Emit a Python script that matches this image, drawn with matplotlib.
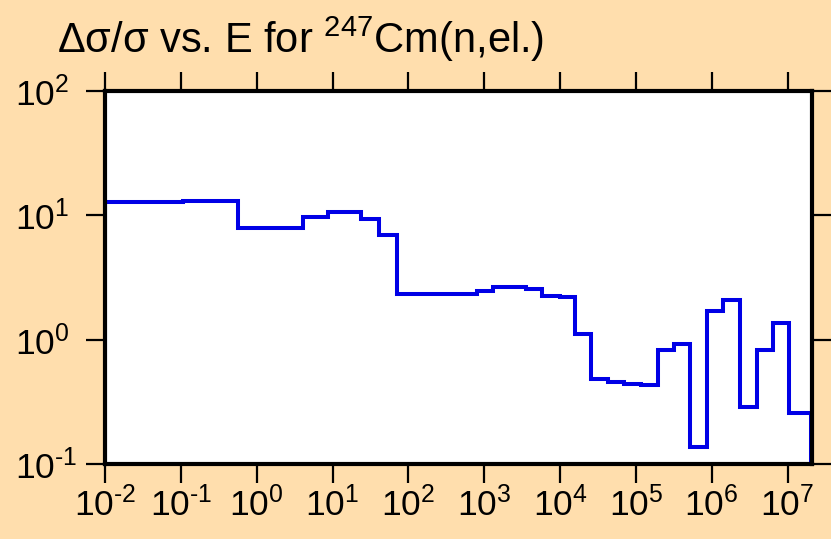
import matplotlib
matplotlib.use("Agg")
import matplotlib.pyplot as plt
from matplotlib.ticker import FixedLocator, NullLocator

plt.rcParams['font.family'] = ['Liberation Sans', 'DejaVu Sans']
plt.rcParams['mathtext.fontset'] = 'custom'
plt.rcParams['mathtext.rm'] = 'Liberation Sans'
plt.rcParams['mathtext.it'] = 'Liberation Sans:italic'
plt.rcParams['mathtext.bf'] = 'Liberation Sans:bold'

# Energy group boundaries (eV)
energy_edges = [1e-2, 0.107, 0.569, 4.1, 8.75, 13.8, 23.8, 41, 71, 809,
                1315, 2200, 3580, 5820, 1.006e4, 1.59e4, 2.58e4, 4.32e4,
                7.03e4, 1.18e5, 1.98e5, 3.21e5, 5.22e5, 8.75e5, 1.42e6,
                2.38e6, 4.0e6, 6.5e6, 1.06e7, 2.06e7]
# Relative uncertainty per group
rel_unc = [12.7, 13.0, 7.94, 9.64, 10.7, 10.6, 9.33, 6.95, 2.34, 2.46,
           2.64, 2.65, 2.55, 2.24, 2.21, 1.12, 0.48, 0.456, 0.44, 0.432,
           0.824, 0.916, 0.137, 1.71, 2.08, 0.288, 0.824, 1.35, 0.255]

xticks = [1e-2, 1e-1, 1e0, 1e1, 1e2, 1e3, 1e4, 1e5, 1e6, 1e7]
xticklabels = [r'$10^{\text{-}2}$', r'$10^{\text{-}1}$', '$10^{0}$', '$10^{1}$',
               '$10^{2}$', '$10^{3}$', '$10^{4}$', '$10^{5}$', '$10^{6}$',
               '$10^{7}$']
yticks = [1e-1, 1e0, 1e1, 1e2]
yticklabels = [r'$10^{\text{-}1}$', '$10^{0}$', '$10^{1}$', '$10^{2}$']

bg = '#FFDEAD'
W, H = 831, 539
fig = plt.figure(figsize=(W / 100, H / 100), dpi=100, facecolor=bg)
ax = fig.add_axes([105 / W, 1 - 464 / H, (812 - 105) / W, (464 - 91) / H])
ax.set_facecolor('white')

ax.stairs(rel_unc, energy_edges, baseline=0.1, color='#0000E6', lw=2.9)

ax.set_xscale('log')
ax.set_yscale('log')
ax.set_xlim(1e-2, 2.1e7)
ax.set_ylim(0.1, 100)

ax.xaxis.set_major_locator(FixedLocator(xticks))
ax.xaxis.set_minor_locator(NullLocator())
ax.set_xticklabels(xticklabels)
ax.yaxis.set_major_locator(FixedLocator(yticks))
ax.yaxis.set_minor_locator(NullLocator())
ax.set_yticklabels(yticklabels)

ax.tick_params(which='major', direction='out', length=14, width=1.6,
               labelsize=25.5, top=True, right=True, color='black')
ax.tick_params(axis='x', pad=2)
ax.tick_params(axis='y', pad=51)
for lbl in ax.get_yticklabels():
    lbl.set_horizontalalignment('left')
for s in ax.spines.values():
    s.set_linewidth(3)
    s.set_color('black')

fig.text(57 / W, 1 - 53 / H, 'Δσ/σ vs. E for $^{247}$Cm(n,el.)',
         fontsize=30, ha='left', va='baseline')

fig.savefig('out.png', dpi=100, facecolor=bg)
